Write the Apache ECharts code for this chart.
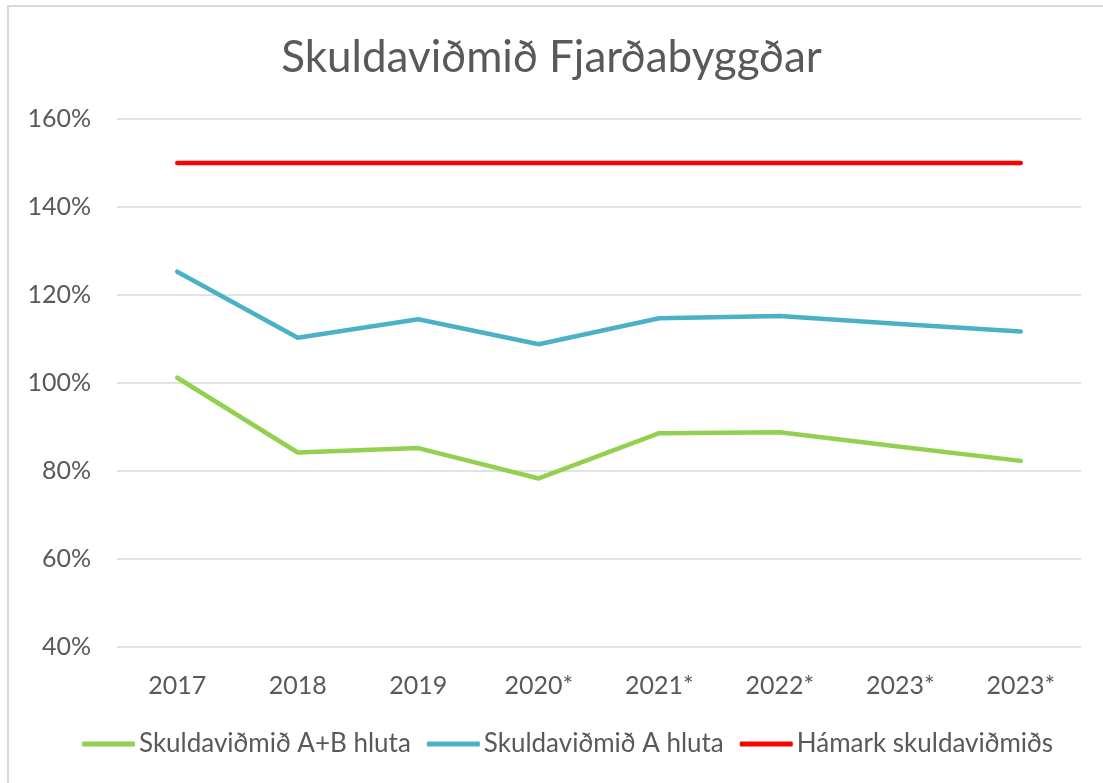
<!DOCTYPE html>
<html>
<head>
<meta charset="utf-8">
<script src="https://cdn.jsdelivr.net/npm/echarts@6/dist/echarts.min.js"></script>
<style>
    html, body { margin: 0; padding: 0; background: #fff; }
    #frame {
        position: absolute; left: 7px; top: 5px; width: 1096px; height: 778px;
        border-left: 2px solid #d9d9d9; border-top: 2px solid #d9d9d9;
        box-sizing: border-box;
    }
    #chart { position: absolute; left: 0; top: 0; width: 1103px; height: 783px; }
</style>
</head>
<body>
<div id="frame"></div>
<div id="chart"></div>
<script>
    // ar og flokkar
    var years = ['2017', '2018', '2019', '2020*', '2021*', '2022*', '2023*', '2023*'];
    // skuldaviðmið í %
    var skuldAB = [101.2, 84.2, 85.2, 78.3, 88.6, 88.8, 85.5, 82.3];
    var skuldA = [125.3, 110.3, 114.5, 108.8, 114.7, 115.2, 113.4, 111.7];
    var hamark = [150, 150, 150, 150, 150, 150, 150, 150];
    var seriesNames = ['Skuldaviðmið A+B hluta', 'Skuldaviðmið A hluta', 'Hámark skuldaviðmiðs'];
    var colors = ['#92D050', '#4BB1C7', '#FF0000'];

    var font = 'Lato, "Open Sans", sans-serif';
    var chart = echarts.init(document.getElementById('chart'));

    function lineSeries(name, data, color) {
        return {
            name: name,
            type: 'line',
            data: data,
            showSymbol: false,
            symbol: 'none',
            lineStyle: { color: color, width: 4.5, cap: 'round', join: 'round' },
            itemStyle: { color: color }
        };
    }

    chart.setOption({
        animation: false,
        title: {
            text: 'Skuldaviðmið Fjarðabyggðar',
            left: 'center',
            top: 31,
            textStyle: { fontFamily: font, fontSize: 44, fontWeight: 'normal', color: '#595959' }
        },
        legend: {
            bottom: 21,
            left: 77,
            icon: 'roundRect',
            itemWidth: 53,
            itemHeight: 5,
            itemGap: 16,
            data: seriesNames,
            textStyle: { fontFamily: font, fontSize: 26, color: '#595959', padding: [0, 0, 0, -1] }
        },
        grid: { left: 117, right: 22, top: 119, bottom: 136 },
        xAxis: {
            type: 'category',
            data: years,
            boundaryGap: true,
            axisLine: { show: false },
            axisTick: { show: false },
            axisLabel: { fontFamily: font, fontSize: 25, color: '#595959', margin: 26 }
        },
        yAxis: {
            type: 'value',
            min: 40,
            max: 160,
            interval: 20,
            axisLine: { show: false },
            axisTick: { show: false },
            axisLabel: { formatter: '{value}%', fontFamily: font, fontSize: 25, color: '#595959', margin: 26 },
            splitLine: { lineStyle: { color: '#d9d9d9', width: 1.5 } }
        },
        series: [
            lineSeries(seriesNames[0], skuldAB, colors[0]),
            lineSeries(seriesNames[1], skuldA, colors[1]),
            lineSeries(seriesNames[2], hamark, colors[2])
        ]
    });
</script>
</body>
</html>
